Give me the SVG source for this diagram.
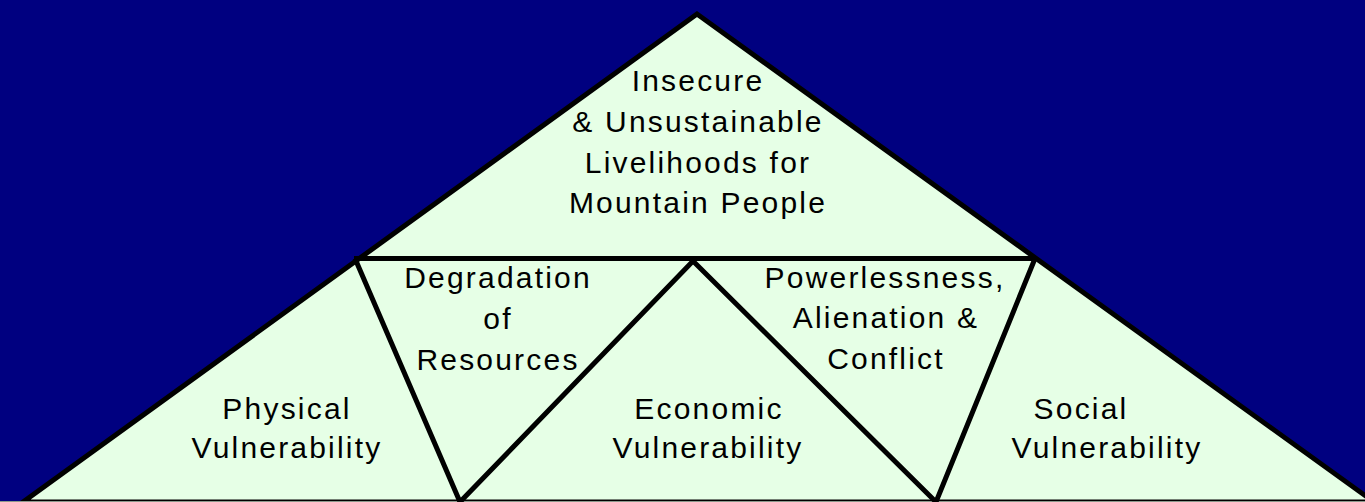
<svg xmlns="http://www.w3.org/2000/svg" width="1365" height="502" viewBox="0 0 1365 502">
  <style>
    .frame { fill: #E6FFE6; stroke: #000; stroke-width: 5; stroke-linejoin: miter; }
    .divider { fill: none; stroke: #000; stroke-width: 5; stroke-linejoin: miter; stroke-linecap: butt; }
    .label { font-family: "Liberation Sans", Arial, sans-serif; font-size: 30px; letter-spacing: 2.2px; fill: #000; text-anchor: middle; }
  </style>

  <!-- background -->
  <rect x="0" y="0" width="1365" height="502" fill="#000080"/>

  <!-- outer mountain -->
  <g id="mountain">
    <polygon class="frame" points="697,14 23,502 1374,502"/>
    <line x1="0" y1="501.5" x2="1365" y2="501.5" stroke="#8C998C" stroke-width="1"/>
  </g>

  <!-- inner dividing lines -->
  <g id="dividers">
    <line class="divider" x1="354" y1="258.5" x2="1037" y2="258.5"/>
    <polyline class="divider" points="355,258.5 460,502 693,261 936,502 1035,258.5"/>
  </g>

  <g id="node-livelihoods">
    <text class="label" x="698" y="91">Insecure</text>
    <text class="label" x="698" y="132">&amp; Unsustainable</text>
    <text class="label" x="698" y="173">Livelihoods for</text>
    <text class="label" x="698" y="213">Mountain People</text>
  </g>

  <g id="node-degradation">
    <text class="label" x="498" y="288">Degradation</text>
    <text class="label" x="498" y="329">of</text>
    <text class="label" x="498" y="370">Resources</text>
  </g>

  <g id="node-powerlessness">
    <text class="label" x="885" y="288">Powerlessness,</text>
    <text class="label" x="886" y="328">Alienation &amp;</text>
    <text class="label" x="886" y="369">Conflict</text>
  </g>

  <g id="node-physical">
    <text class="label" x="287" y="419">Physical</text>
    <text class="label" x="287" y="458">Vulnerability</text>
  </g>

  <g id="node-economic">
    <text class="label" x="709" y="419">Economic</text>
    <text class="label" x="708" y="458">Vulnerability</text>
  </g>

  <g id="node-social">
    <text class="label" x="1081" y="419">Social</text>
    <text class="label" x="1107" y="458">Vulnerability</text>
  </g>
</svg>
